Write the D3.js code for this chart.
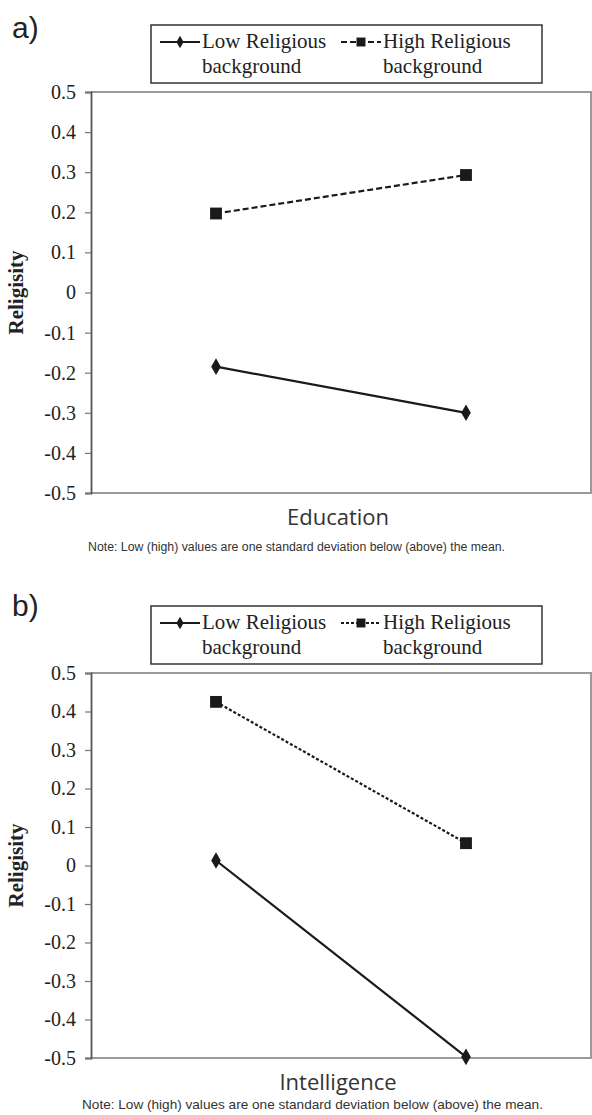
<!DOCTYPE html>
<html>
<head>
<meta charset="utf-8">
<title>Religiosity interactions</title>
<script src="https://cdn.jsdelivr.net/npm/d3@7"></script>
<style>
  * { margin: 0; padding: 0; }
  body { background: #fff; }
  svg { display: block; }
</style>
</head>
<body>
<div id="chart"></div>
<script>
// x categories: predictor at low (-1 SD) and high (+1 SD)
var categories = ["Low", "High"];
var seriesNames = [["Low Religious", "background"], ["High Religious", "background"]];
var yTicks = [0.5, 0.4, 0.3, 0.2, 0.1, 0, -0.1, -0.2, -0.3, -0.4, -0.5];
var noteText = "Note: Low (high) values are one standard deviation below (above) the mean.";

// panel a) Education
var eduLow = [-0.185, -0.300];
var eduHigh = [0.197, 0.293];
// panel b) Intelligence
var intLow = [0.013, -0.497];
var intHigh = [0.425, 0.058];

var W = 592, H = 1115;
var svg = d3.select("#chart").append("svg")
    .attr("width", W)
    .attr("height", H);

var drawPanel = function(p) {
  var g = svg.append("g");
  var x = d3.scalePoint().domain(categories).range([91, 591]).padding(0.5);
  var y = d3.scaleLinear().domain([-0.5, 0.5]).range([p.bottom, p.top]);

  // panel letter
  g.append("text")
      .attr("x", 12).attr("y", p.letterY)
      .attr("font-family", "Liberation Sans, Arial, sans-serif")
      .attr("font-size", 30)
      .attr("fill", "#222")
      .text(p.letter);

  // plot frame (top / right / bottom in gray)
  g.append("path")
      .attr("d", "M91," + p.top + "H591V" + p.bottom + "H91")
      .attr("fill", "none")
      .attr("stroke", "#9a9a9a")
      .attr("stroke-width", 2);

  // y axis
  var axis = g.append("g")
      .attr("transform", "translate(91,0)")
      .call(d3.axisLeft(y).tickValues(yTicks).tickSize(6).tickPadding(9)
        .tickFormat(function(d) { return d === 0 ? "0" : d.toFixed(1); }));
  axis.select(".domain").attr("stroke", "#555").attr("stroke-width", 1.8);
  axis.selectAll(".tick line").attr("stroke", "#777").attr("stroke-width", 1.2);
  axis.selectAll(".tick text")
      .style("font-family", "'Liberation Serif', 'DejaVu Serif', serif")
      .style("font-size", "20px")
      .style("fill", "#222");

  // y title
  g.append("text")
      .attr("transform", "translate(23," + ((p.top + p.bottom) / 2) + ") rotate(-90)")
      .attr("text-anchor", "middle")
      .attr("font-family", "Liberation Serif, serif")
      .attr("font-weight", "bold")
      .attr("font-size", 21)
      .attr("fill", "#222")
      .text("Religisity");

  // x title
  g.append("text")
      .attr("x", 338).attr("y", p.bottom + 32)
      .attr("text-anchor", "middle")
      .attr("font-family", "Open Sans, Liberation Sans, sans-serif")
      .attr("font-size", 22)
      .attr("fill", "#333")
      .text(p.xTitle);

  // note
  g.append("text")
      .attr("x", p.noteX).attr("y", p.bottom + p.noteDy)
      .attr("font-family", "Liberation Sans, Arial, sans-serif")
      .attr("font-size", p.noteSize)
      .attr("fill", "#333")
      .text(noteText);

  var series = [
    {vals: p.low, dash: null, sym: d3.symbolDiamond, size: 80},
    {vals: p.high, dash: p.dash, sym: d3.symbolSquare, size: 140}
  ];
  var line = d3.line()
      .x(function(d, i) { return x(categories[i]); })
      .y(function(d) { return y(d); });

  series.forEach(function(s) {
    g.append("path")
        .attr("d", line(s.vals))
        .attr("fill", "none")
        .attr("stroke", "#1a1a1a")
        .attr("stroke-width", 2.2)
        .attr("stroke-dasharray", s.dash);
    g.selectAll(null)
        .data(s.vals)
      .enter().append("path")
        .attr("transform", function(d, i) { return "translate(" + x(categories[i]) + "," + y(d) + ")"; })
        .attr("d", d3.symbol().type(s.sym).size(s.size))
        .attr("fill", "#1a1a1a");
  });

  // legend
  var lg = g.append("g").attr("transform", "translate(151," + p.legendTop + ")");
  lg.append("rect")
      .attr("x", 0).attr("y", 0).attr("width", 391).attr("height", 58)
      .attr("fill", "#fff").attr("stroke", "#333").attr("stroke-width", 1.5);
  var items = [
    {x: 9, dash: null, sym: d3.symbolDiamond, size: 45},
    {x: 190, dash: p.dash, sym: d3.symbolSquare, size: 80}
  ];
  items.forEach(function(it, k) {
    lg.append("line")
        .attr("x1", it.x).attr("x2", it.x + 40)
        .attr("y1", 17).attr("y2", 17)
        .attr("stroke", "#1a1a1a").attr("stroke-width", 2)
        .attr("stroke-dasharray", it.dash);
    lg.append("path")
        .attr("transform", "translate(" + (it.x + 20) + ",17)")
        .attr("d", d3.symbol().type(it.sym).size(it.size))
        .attr("fill", "#1a1a1a");
    var t = lg.append("text")
        .attr("font-family", "Liberation Serif, serif")
        .attr("font-size", 21)
        .attr("fill", "#222");
    t.append("tspan").attr("x", it.x + 42).attr("y", 23).text(seriesNames[k][0]);
    t.append("tspan").attr("x", it.x + 42).attr("y", 48).text(seriesNames[k][1]);
  });
};

drawPanel({letter: "a)", letterY: 38, legendTop: 25, top: 92, bottom: 493,
  xTitle: "Education", low: eduLow, high: eduHigh, dash: "6,3",
  noteX: 88, noteSize: 12.3, noteDy: 58});
drawPanel({letter: "b)", letterY: 616, legendTop: 606, top: 673, bottom: 1058,
  xTitle: "Intelligence", low: intLow, high: intHigh, dash: "3,2",
  noteX: 82, noteSize: 13.6, noteDy: 51});
</script>
</body>
</html>
